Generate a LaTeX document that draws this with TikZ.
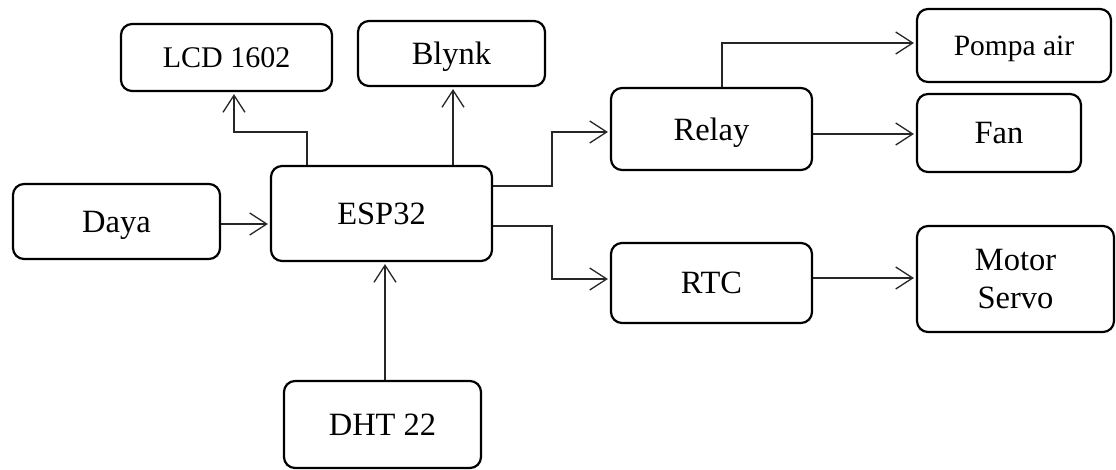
\documentclass[tikz,border=0pt]{standalone}
\usepackage{fontspec}
\setmainfont{Liberation Serif}
\usetikzlibrary{arrows.meta}
\begin{document}
\begin{tikzpicture}[x=1pt,y=-1pt,
  blk/.style={draw=black, line width=2.2pt, rounded corners=11pt, inner sep=0pt,
    align=center, text depth=0pt, font=\fontsize{32.5}{38}\selectfont},
  arr/.style={draw=black!85, line width=1.3pt,
    -{Straight Barb[length=17pt,width=22pt,line width=1.3pt]}, shorten >=2pt}]
\useasboundingbox (0,0) rectangle (1116,470);
\node[blk, minimum width=211pt, minimum height=67pt, font=\fontsize{30}{36}\selectfont] (lcd) at (226.5,57.5) {LCD 1602};
\node[blk, minimum width=187pt, minimum height=65pt] (blynk) at (451.5,53.5) {Blynk};
\node[blk, minimum width=194pt, minimum height=73pt, font=\fontsize{29.5}{35}\selectfont] (pompa) at (1014,45.5) {Pompa air};
\node[blk, minimum width=201pt, minimum height=82pt] (relay) at (711.5,129) {Relay};
\node[blk, minimum width=164pt, minimum height=78pt] (fan) at (999,133) {Fan};
\node[blk, minimum width=207pt, minimum height=75pt] (daya) at (116.5,221.5) {Daya};
\node[blk, minimum width=221pt, minimum height=95pt] (esp) at (381.5,213.5) {ESP32};
\node[blk, minimum width=201pt, minimum height=80pt] (rtc) at (711.5,283) {RTC};
\node[blk, minimum width=197pt, minimum height=106pt] (motor) at (1015.5,279) {Motor\\Servo};
\node[blk, minimum width=197pt, minimum height=87pt] (dht) at (382.5,424.5) {DHT 22};
\coordinate (lcdturn) at (307,132);
\coordinate (relaybend) at (552,186);
\coordinate (rtcbend) at (552,226);
\draw[arr] (esp.north -| lcdturn) -- (lcdturn) -| ([xshift=7.5pt]lcd.south);
\draw[arr] (esp.north -| 453,0) -- (blynk.south -| 453,0);
\draw[arr] (esp.east |- relaybend) -- (relaybend) |- (relay.west |- 0,132);
\draw[arr] (esp.east |- rtcbend) -- (rtcbend) |- (rtc.west |- 0,279);
\draw[arr] (relay.north -| 722,0) |- (pompa.west |- 0,43);
\draw[arr] (relay.east |- 0,134) -- (fan.west |- 0,134);
\draw[arr] (rtc.east |- 0,278) -- (motor.west |- 0,278);
\draw[arr] (daya.east |- 0,224) -- (esp.west |- 0,224);
\draw[arr] (dht.north -| 385,0) -- (esp.south -| 385,0);
\end{tikzpicture}
\end{document}
